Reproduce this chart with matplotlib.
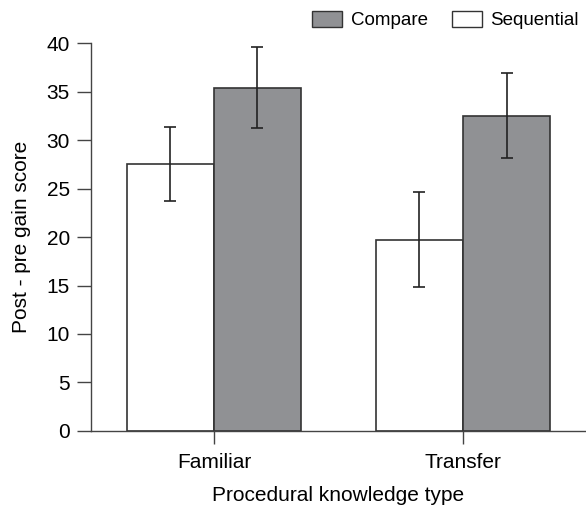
import numpy as np
import matplotlib.pyplot as plt
from matplotlib.patches import Patch

plt.rcParams['font.family'] = ['Liberation Sans', 'DejaVu Sans']

categories = ['Familiar', 'Transfer']
sequential = [27.5, 19.7]
sequential_err = [3.8, 4.9]
compare = [35.4, 32.5]
compare_err = [4.2, 4.4]

gray = '#909194'
edge = '#333333'

fig = plt.figure(figsize=(5.86, 5.07), dpi=100)
ax = fig.add_axes([0.155, 0.15, 0.845, 0.765])

x = np.arange(len(categories))
w = 0.35
ax.bar(x - w / 2, sequential, w, color='white', edgecolor=edge, linewidth=1.2)
ax.bar(x + w / 2, compare, w, color=gray, edgecolor=edge, linewidth=1.2)
ax.errorbar(x - w / 2, sequential, yerr=sequential_err, fmt='none', ecolor='#222222',
            elinewidth=1.2, capsize=4.5, capthick=1.2)
ax.errorbar(x + w / 2, compare, yerr=compare_err, fmt='none', ecolor='#222222',
            elinewidth=1.2, capsize=4.5, capthick=1.2)

ax.set_xlim(-0.494, 1.494)
ax.set_ylim(0, 40)
ax.set_yticks(range(0, 41, 5))
ax.set_xticks(x)
ax.set_xticklabels(categories)
ax.spines['top'].set_visible(False)
ax.spines['right'].set_visible(False)
for s in ['left', 'bottom']:
    ax.spines[s].set_color('#444444')
    ax.spines[s].set_linewidth(1.0)
ax.tick_params(direction='out', length=10, width=1.0, color='#444444', labelsize=15, pad=5)
ax.tick_params(axis='x', length=9, pad=7)
ax.set_xlabel('Procedural knowledge type', fontsize=15, labelpad=10)
ax.set_ylabel('Post - pre gain score', fontsize=15, labelpad=11)

handles = [Patch(facecolor=gray, edgecolor=edge, label='Compare'),
           Patch(facecolor='white', edgecolor=edge, label='Sequential')]
fig.legend(handles=handles, loc='upper right', bbox_to_anchor=(1.017, 1.012), ncol=2,
           frameon=False, fontsize=13.5, handlelength=1.6, handleheight=0.95,
           columnspacing=1.3, handletextpad=0.45)

fig.savefig('out.png', dpi=100)
